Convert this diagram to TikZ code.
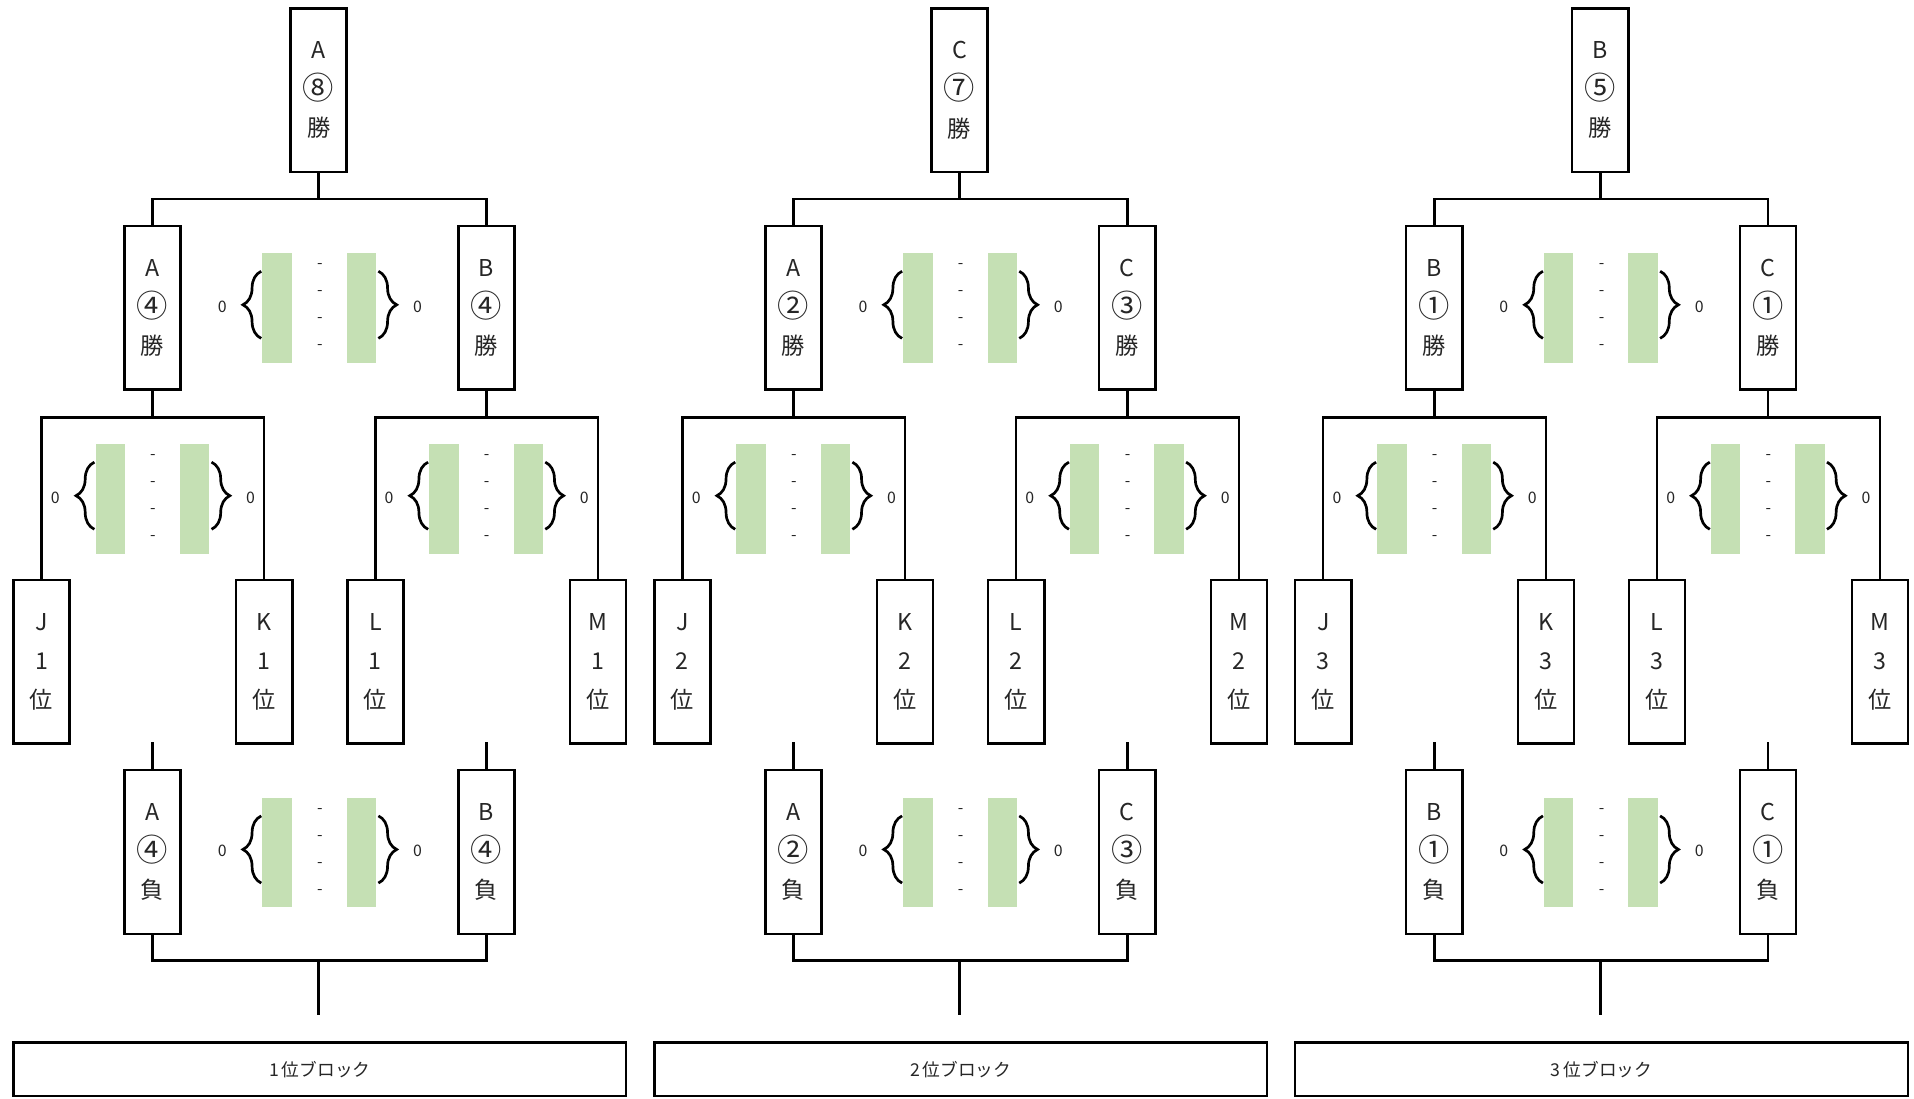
\documentclass[tikz,border=0pt]{standalone}
\usepackage{fontspec}
\setmainfont{Noto Sans CJK JP}
\usetikzlibrary{calc,decorations.pathreplacing}
\definecolor{gr}{HTML}{C5E0B4}
\definecolor{tx}{HTML}{262626}
\tikzset{
  team/.style={draw=black, line width=2pt, minimum width=46pt, minimum height=134pt,
    inner sep=0pt, align=center, font=\fontsize{19}{32}\selectfont, text=tx},
  link/.style={line width=2pt, draw=black},
  scnum/.style={font=\fontsize{13}{13}\selectfont, text=tx, inner sep=0pt},
  grbar/.style={fill=gr, draw=none},
  brc/.style={decorate, decoration={brace, amplitude=15pt}, line width=2.2pt},
  blocklabel/.style={draw=black, line width=2pt, minimum width=502pt, minimum height=44pt,
    inner sep=0pt, font=\fontsize{14.5}{14.5}\selectfont, text=tx},
}
\newcommand\circnum[1]{\raisebox{-0.08em}{\scalebox{1.35}{#1}}}
\newcommand\scoregrp[3]{%
  \fill[grbar] ({#2-47},{#3-45}) rectangle ({#2-23},{#3+45});
  \fill[grbar] ({#2+22},{#3-45}) rectangle ({#2+46},{#3+45});
  \node[scnum] (#1-a) at ({#2-80},{#3-1}) {0};
  \node[scnum] (#1-b) at ({#2+80},{#3-1}) {0};
  \node[scnum] (#1-d1) at ({#2},{#3-34}) {-};
  \node[scnum] (#1-d2) at ({#2},{#3-12}) {-};
  \node[scnum] (#1-d3) at ({#2},{#3+10}) {-};
  \node[scnum] (#1-d4) at ({#2},{#3+32}) {-};
  \draw[brc] ({#2-48},{#3+25}) -- ({#2-48},{#3-30});
  \draw[brc] ({#2+48},{#3-30}) -- ({#2+48},{#3+25});
}
\newcommand\drawblock[9]{%
  \node[team] (#1T) at ({#2+261},74) {#3\\\circnum{#4}\\勝};
  \node[team] (#1AW) at ({#2+125},252) {#5\\\circnum{#6}\\勝};
  \node[team] (#1BW) at ({#2+398.5},252) {#7\\\circnum{#8}\\勝};
  \node[team] (#1J) at ({#2+34},542) {J\\#9\\位};
  \node[team] (#1K) at ({#2+216.5},542) {K\\#9\\位};
  \node[team] (#1L) at ({#2+307.5},542) {L\\#9\\位};
  \node[team] (#1M) at ({#2+490},542) {M\\#9\\位};
  \node[team] (#1AL) at ({#2+125},698) {#5\\\circnum{#6}\\負};
  \node[team] (#1BL) at ({#2+398.5},698) {#7\\\circnum{#8}\\負};
  \node[blocklabel] (#1lab) at ({#2+262},876) {#9\,位ブロック};
  % top connector
  \coordinate (#1h0) at ({#2+261},163);
  \draw[link] (#1T.south) -- (#1h0);
  \draw[link] (#1AW.north) |- (#1h0) -| (#1BW.north);
  % second level
  \coordinate (#1h1) at ($(#1AW.south)+(0,22)$);
  \draw[link] (#1AW.south) -- (#1h1);
  \draw[link] (#1J.north) |- (#1h1) -| (#1K.north);
  \coordinate (#1h2) at ($(#1BW.south)+(0,22)$);
  \draw[link] (#1BW.south) -- (#1h2);
  \draw[link] (#1L.north) |- (#1h2) -| (#1M.north);
  % stubs
  \coordinate (#1st1) at ($(#1AL.north)+(0,-22)$);
  \draw[link] (#1st1) -- (#1AL.north);
  \coordinate (#1st2) at ($(#1BL.north)+(0,-22)$);
  \draw[link] (#1st2) -- (#1BL.north);
  % bottom
  \coordinate (#1h3) at ({#2+261},787);
  \draw[link] (#1AL.south) |- (#1h3) -| (#1BL.south);
  \coordinate (#1e) at ({#2+261},831.5);
  \draw[link] (#1h3) -- (#1e);
  % scores
  \scoregrp{#1sa}{#2+262}{252.2}
  \scoregrp{#1sb}{#2+125.3}{408.6}
  \scoregrp{#1sc}{#2+398.7}{408.6}
  \scoregrp{#1sd}{#2+262}{698.4}
}
\begin{document}
\begin{tikzpicture}[x=1pt,y=-1pt]
  \useasboundingbox[fill=white] (0,0) rectangle (1568,900);
  \drawblock{b1}{0}{A}{⑧}{A}{④}{B}{④}{1}
  \drawblock{b2}{525}{C}{⑦}{A}{②}{C}{③}{2}
  \drawblock{b3}{1050}{B}{⑤}{B}{①}{C}{①}{3}
\end{tikzpicture}
\end{document}
